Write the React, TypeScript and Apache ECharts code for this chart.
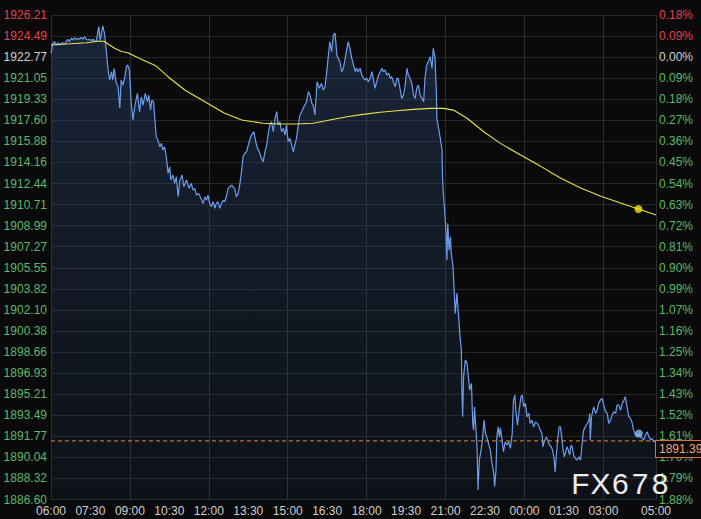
import React, { useEffect, useRef } from "react";
import * as echarts from "echarts";

// ---- axis definition (previous close and price step of the value axis) ----
const PRE_CLOSE = 1922.77;
const TICK_STEP = 1.72242;
const TICKS_BELOW = 21;
const TICKS_TOTAL = 23;
const SESSION_START_HOUR = 6;
const SESSION_MINUTES = 1380;
const X_LABEL_EVERY = 90;
const X_GRID_EVERY = 180;

// ---- price series (minutes after 06:00, price) ----
const TIME_MIN = [
  0, 4, 8, 12, 16, 19, 23, 27, 31, 35,
  38, 42, 46, 50, 54, 58, 61, 65, 69, 73,
  77, 80, 84, 88, 92, 96, 99, 103, 107, 109,
  112, 115, 118, 122, 124, 126, 128, 131, 134, 138,
  141, 144, 149, 153, 157, 160, 164, 168, 172, 175,
  179, 183, 187, 191, 197, 202, 206, 210, 215, 220,
  223, 227, 230, 234, 237, 240, 244, 248, 252, 255,
  259, 263, 267, 271, 273, 278, 282, 286, 290, 294,
  299, 303, 309, 315, 320, 324, 328, 332, 337, 342,
  347, 351, 355, 358, 362, 366, 370, 374, 377, 381,
  385, 389, 393, 396, 400, 404, 408, 412, 415, 419,
  423, 427, 431, 435, 438, 442, 446, 452, 457, 463,
  467, 471, 475, 480, 484, 488, 492, 495, 499, 503,
  507, 511, 515, 518, 522, 526, 530, 534, 537, 541,
  545, 549, 553, 556, 560, 564, 568, 572, 575, 579,
  583, 587, 591, 595, 598, 602, 604, 607, 612, 617,
  621, 625, 629, 632, 636, 640, 644, 648, 652, 655,
  659, 663, 667, 671, 675, 678, 682, 686, 690, 694,
  697, 701, 705, 709, 713, 716, 720, 724, 728, 732,
  735, 739, 743, 747, 751, 755, 758, 762, 766, 770,
  774, 777, 781, 785, 789, 792, 796, 800, 804, 808,
  812, 815, 819, 823, 827, 831, 834, 838, 842, 846,
  850, 853, 857, 861, 865, 869, 872, 876, 879, 880,
  884, 888, 892, 893, 895, 899, 901, 903, 905, 908,
  911, 913, 917, 920, 922, 926, 928, 931, 933, 936,
  937, 939, 941, 945, 949, 952, 955, 959, 962, 964,
  966, 969, 972, 974, 977, 981, 984, 988, 991, 994,
  998, 1002, 1006, 1010, 1012, 1015, 1017, 1020, 1023, 1025,
  1029, 1032, 1036, 1040, 1044, 1048, 1052, 1055, 1058, 1061,
  1064, 1068, 1072, 1075, 1078, 1082, 1086, 1090, 1093, 1097,
  1101, 1105, 1109, 1112, 1116, 1120, 1122, 1125, 1130, 1133,
  1137, 1141, 1144, 1147, 1150, 1153, 1156, 1159, 1162, 1165,
  1168, 1171, 1174, 1177, 1180, 1183, 1186, 1189, 1192, 1196,
  1200, 1204, 1208, 1210, 1213, 1215, 1219, 1223, 1227, 1229,
  1230, 1233, 1236, 1238, 1242, 1246, 1249, 1253, 1257, 1261,
  1265, 1269, 1272, 1276, 1280, 1284, 1288, 1291, 1295, 1299,
  1303, 1307, 1310, 1314, 1318, 1322, 1326, 1329, 1333, 1337,
  1341, 1345, 1349, 1352, 1356, 1360, 1364, 1368, 1371, 1375,
  1380,
];

const PRICE = [
  1923.08, 1923.90, 1924.03, 1923.76, 1923.95, 1923.76, 1923.90, 1923.95, 1923.84, 1924.03,
  1924.23, 1924.03, 1924.31, 1924.17, 1924.36, 1924.17, 1924.31, 1924.23, 1924.39, 1924.23,
  1924.44, 1924.23, 1924.17, 1924.23, 1924.11, 1924.23, 1924.11, 1924.03, 1924.85, 1925.26,
  1924.17, 1924.72, 1925.32, 1924.72, 1924.03, 1923.35, 1922.53, 1921.47, 1920.90, 1921.58,
  1920.90, 1921.86, 1920.63, 1920.35, 1918.61, 1920.90, 1920.49, 1921.06, 1921.99, 1922.13,
  1921.72, 1919.02, 1917.63, 1918.72, 1919.81, 1918.31, 1919.53, 1918.85, 1919.81, 1919.12,
  1919.67, 1918.45, 1919.26, 1919.12, 1917.63, 1916.26, 1915.99, 1915.44, 1915.72, 1915.17,
  1915.44, 1914.63, 1913.27, 1913.81, 1912.72, 1913.13, 1912.45, 1912.99, 1911.35, 1912.72,
  1913.13, 1912.17, 1912.72, 1912.04, 1912.45, 1911.90, 1912.04, 1911.49, 1911.63, 1911.22,
  1910.81, 1911.35, 1911.08, 1911.49, 1910.81, 1910.54, 1910.95, 1910.41, 1910.81, 1910.95,
  1910.41, 1910.81, 1911.08, 1910.95, 1911.35, 1912.04, 1912.17, 1912.31, 1912.17, 1912.04,
  1911.35, 1911.63, 1912.45, 1913.54, 1914.63, 1914.90, 1915.03, 1915.85, 1916.40, 1916.67,
  1915.85, 1915.31, 1915.03, 1914.50, 1914.22, 1915.03, 1915.58, 1916.40, 1917.22, 1917.49,
  1916.67, 1917.77, 1918.31, 1917.22, 1917.49, 1916.67, 1916.95, 1916.40, 1917.22, 1915.85,
  1916.13, 1915.58, 1915.03, 1915.58, 1916.13, 1917.22, 1918.04, 1918.31, 1918.58, 1918.85,
  1919.12, 1919.94, 1919.67, 1918.99, 1918.85, 1918.04, 1919.12, 1920.76, 1920.22, 1920.63,
  1920.08, 1920.35, 1921.58, 1922.67, 1924.03, 1923.21, 1924.58, 1924.72, 1922.94, 1922.67,
  1922.40, 1921.58, 1921.86, 1922.67, 1923.49, 1924.03, 1923.49, 1922.67, 1922.13, 1921.58,
  1921.86, 1921.58, 1921.86, 1921.31, 1921.04, 1920.90, 1921.04, 1920.76, 1921.04, 1921.58,
  1921.04, 1920.22, 1920.76, 1921.31, 1921.58, 1921.86, 1921.58, 1921.72, 1921.31, 1921.45,
  1921.04, 1921.17, 1920.76, 1920.35, 1921.04, 1921.04, 1920.22, 1919.40, 1919.67, 1920.49,
  1921.86, 1921.31, 1921.04, 1920.63, 1919.67, 1919.40, 1920.22, 1920.49, 1919.67, 1919.40,
  1919.12, 1921.04, 1922.13, 1922.40, 1922.81, 1921.86, 1923.49, 1922.67, 1919.94, 1917.77,
  1916.95, 1916.13, 1915.17, 1912.99, 1911.63, 1909.72, 1908.36, 1906.18, 1909.18, 1906.99,
  1908.08, 1906.72, 1905.63, 1903.45, 1901.82, 1903.45, 1902.36, 1901.00, 1899.90, 1898.82,
  1896.09, 1893.36, 1896.63, 1898.00, 1897.73, 1896.63, 1895.54, 1896.09, 1892.82, 1892.27,
  1894.18, 1892.54, 1890.64, 1887.37, 1889.82, 1890.64, 1891.45, 1893.09, 1892.00, 1891.72,
  1891.19, 1890.64, 1889.55, 1888.73, 1887.64, 1889.00, 1891.72, 1892.54, 1891.72, 1892.44,
  1891.46, 1890.50, 1891.32, 1891.05, 1891.32, 1890.78, 1892.00, 1894.73, 1895.14, 1893.64,
  1892.68, 1893.91, 1895.00, 1895.14, 1894.18, 1894.46, 1893.36, 1893.64, 1892.82, 1893.09,
  1892.54, 1892.95, 1892.82, 1892.68, 1892.27, 1892.00, 1890.91, 1891.32, 1891.72, 1891.46,
  1891.05, 1890.91, 1890.64, 1890.09, 1888.86, 1890.37, 1891.59, 1892.54, 1892.54, 1891.72,
  1890.64, 1890.09, 1890.50, 1890.91, 1890.64, 1890.23, 1891.05, 1890.91, 1890.23, 1889.96,
  1889.82, 1890.09, 1889.82, 1890.64, 1891.72, 1892.27, 1892.54, 1892.82, 1893.09, 1893.64,
  1891.46, 1893.36, 1893.91, 1894.18, 1893.64, 1893.91, 1894.46, 1894.73, 1894.86, 1894.32,
  1893.77, 1893.64, 1892.82, 1893.09, 1893.50, 1893.77, 1893.64, 1894.32, 1894.32, 1893.91,
  1894.46, 1894.73, 1895.00, 1894.18, 1893.36, 1893.23, 1892.82, 1892.27, 1891.86, 1891.72,
  1892.00, 1891.72, 1891.59, 1891.46, 1891.86, 1892.13, 1891.72, 1891.46, 1891.59, 1891.32,
  1891.39,
];

// ---- average price line ----
const AVG_TIME = [
  0, 35, 81, 111, 122, 145, 161, 175, 206, 240,
  267, 305, 351, 396, 435, 484, 522, 560, 598, 636,
  675, 712, 751, 789, 827, 865, 895, 918, 949, 987,
  1025, 1071, 1116, 1162, 1208, 1253, 1299, 1340, 1380,
];
const AVG_PRICE = [
  1923.76, 1923.84, 1923.95, 1924.09, 1924.05, 1923.49, 1923.23, 1923.13, 1922.59, 1922.04,
  1921.17, 1920.08, 1919.12, 1918.18, 1917.63, 1917.36, 1917.30, 1917.30, 1917.36, 1917.63,
  1917.90, 1918.09, 1918.26, 1918.39, 1918.50, 1918.58, 1918.58, 1918.44, 1917.77, 1916.67,
  1915.72, 1914.77, 1913.86, 1912.88, 1912.07, 1911.41, 1910.84, 1910.35, 1909.86,
];

const MARK_TIME = 1340;
const WATERMARK = "FX678";

const AXIS_BASE = PRE_CLOSE - TICKS_BELOW * TICK_STEP;
const FONT = '"Liberation Sans", Arial, sans-serif';
const LAST_LINE_COLOR = "#e48a3a";

function tickIndex(v: number) {
  return Math.round(v / TICK_STEP);
}
function labelKey(k: number) {
  return k > TICKS_BELOW ? "up" : k === TICKS_BELOW ? "flat" : "down";
}
function minuteLabel(v: number) {
  const total = (SESSION_START_HOUR * 60 + v) % 1440;
  const h = Math.floor(total / 60);
  const m = total % 60;
  return String(h).padStart(2, "0") + ":" + String(m).padStart(2, "0");
}

const RICH = {
  up: { color: "#e2424f", fontSize: 12, fontFamily: FONT },
  flat: { color: "#d2d2d2", fontSize: 12, fontFamily: FONT },
  down: { color: "#5db86a", fontSize: 12, fontFamily: FONT },
};

export default function App() {
  const ref = useRef<HTMLDivElement>(null);

  useEffect(() => {
    if (!ref.current) return;
    const chart = echarts.init(ref.current, undefined, { renderer: "svg" });

    const n = Math.min(TIME_MIN.length, PRICE.length);
    const priceData: number[][] = [];
    for (let i = 0; i < n; i++) priceData.push([TIME_MIN[i], PRICE[i] - AXIS_BASE]);
    const avgN = Math.min(AVG_TIME.length, AVG_PRICE.length);
    const avgData: number[][] = [];
    for (let i = 0; i < avgN; i++) avgData.push([AVG_TIME[i], AVG_PRICE[i] - AXIS_BASE]);

    let nearest = 0;
    for (let i = 0; i < n; i++) {
      if (Math.abs(TIME_MIN[i] - MARK_TIME) < Math.abs(TIME_MIN[nearest] - MARK_TIME)) nearest = i;
    }
    const avgMarkIdx = AVG_TIME.indexOf(MARK_TIME);
    const lastPrice = PRICE[n - 1];
    const lastV = lastPrice - AXIS_BASE;

    const yMax = TICKS_TOTAL * TICK_STEP;

    chart.setOption({
      animation: false,
      backgroundColor: "#0a0a0a",
      grid: {
        left: 51,
        right: 45,
        top: 15,
        bottom: 19.5,
        containLabel: false,
        outerBoundsMode: "none",
      },
      xAxis: [
        {
          type: "value",
          min: 0,
          max: SESSION_MINUTES,
          interval: X_LABEL_EVERY,
          axisLine: { show: true, lineStyle: { color: "#2e2e2e" } },
          axisTick: { show: false },
          splitLine: { show: false },
          axisLabel: {
            color: "#cfcfcf",
            fontSize: 12,
            fontFamily: FONT,
            margin: 5,
            showMaxLabel: true,
            showMinLabel: true,
            formatter: (v: number) => {
              if (v % X_LABEL_EVERY !== 0 && v !== SESSION_MINUTES) return "";
              if (v < SESSION_MINUTES && SESSION_MINUTES - v < X_LABEL_EVERY / 2 + 1) return "";
              return minuteLabel(v);
            },
          },
        },
        {
          type: "value",
          min: 0,
          max: SESSION_MINUTES,
          interval: X_GRID_EVERY,
          position: "bottom",
          axisLine: { show: false },
          axisTick: { show: false },
          axisLabel: { show: false },
          splitLine: { show: true, lineStyle: { color: "#2e2e2e", width: 1 } },
        },
      ],
      yAxis: [
        {
          type: "value",
          position: "left",
          min: 0,
          max: yMax,
          interval: TICK_STEP,
          axisLine: { show: false },
          axisTick: { show: false },
          splitLine: { show: true, lineStyle: { color: "#282828", width: 1 } },
          axisLabel: {
            margin: 4,
            fontSize: 12,
            fontFamily: FONT,
            formatter: (v: number) => {
              const k = tickIndex(v);
              const price = PRE_CLOSE + (k - TICKS_BELOW) * TICK_STEP;
              return "{" + labelKey(k) + "|" + price.toFixed(2) + "}";
            },
            rich: RICH,
          },
        },
        {
          type: "value",
          position: "right",
          min: 0,
          max: yMax,
          interval: TICK_STEP,
          axisLine: { show: false },
          axisTick: { show: false },
          splitLine: { show: false },
          axisLabel: {
            margin: 3,
            fontSize: 12,
            fontFamily: FONT,
            formatter: (v: number) => {
              const k = tickIndex(v);
              const pct = (Math.abs(k - TICKS_BELOW) * TICK_STEP) / PRE_CLOSE * 100;
              return "{" + labelKey(k) + "|" + pct.toFixed(2) + "%}";
            },
            rich: RICH,
          },
        },
      ],
      series: [
        {
          type: "line",
          xAxisIndex: 0,
          yAxisIndex: 0,
          data: priceData,
          symbol: "none",
          lineStyle: { color: "#6c9def", width: 1.2 },
          areaStyle: {
            origin: "start",
            color: new echarts.graphic.LinearGradient(0, 0, 0, 1, [
              { offset: 0, color: "rgba(48,80,130,0.55)" },
              { offset: 1, color: "rgba(36,58,96,0.22)" },
            ]),
          },
          z: 3,
        },
        {
          type: "line",
          xAxisIndex: 0,
          yAxisIndex: 0,
          data: [
            [0, lastV],
            [SESSION_MINUTES, lastV],
          ],
          symbol: "none",
          silent: true,
          color: LAST_LINE_COLOR,
          lineStyle: { color: LAST_LINE_COLOR, type: [4, 3], width: 1 },
          endLabel: {
            show: true,
            distance: 0,
            verticalAlign: "top",
            formatter: () => lastPrice.toFixed(2),
            color: "#f2a27e",
            fontSize: 12,
            fontFamily: FONT,
            backgroundColor: "#0a0a0a",
            borderColor: "#d8733a",
            borderWidth: 1,
            padding: [2, 4, 2, 3],
          },
          z: 6,
        },
        {
          type: "line",
          xAxisIndex: 0,
          yAxisIndex: 0,
          data: avgData,
          symbol: "none",
          lineStyle: { color: "#ece24a", width: 1.1 },
          z: 4,
        },
        {
          type: "scatter",
          xAxisIndex: 0,
          yAxisIndex: 0,
          symbol: "circle",
          symbolSize: 8,
          itemStyle: { color: "#8cb6f2" },
          data: [priceData[nearest]],
          z: 5,
        },
        {
          type: "scatter",
          xAxisIndex: 0,
          yAxisIndex: 0,
          symbol: "circle",
          symbolSize: 8,
          itemStyle: { color: "#f4e400" },
          data: avgMarkIdx >= 0 ? [avgData[avgMarkIdx]] : [],
          z: 5,
        },
      ],
      graphic: WATERMARK.split("").map((ch, i) => ({
        type: "text",
        x: 580.5 + i * 19.9,
        y: 483,
        z: 100,
        style: {
          text: ch,
          fill: "#ececec",
          fontSize: 30,
          fontFamily: FONT,
          align: "center",
          verticalAlign: "middle",
        },
      })),
    });

    return () => chart.dispose();
  }, []);

  return (
    <div
      ref={ref}
      style={{ position: "absolute", left: 0, top: 0, width: 701, height: 519 }}
    />
  );
}
